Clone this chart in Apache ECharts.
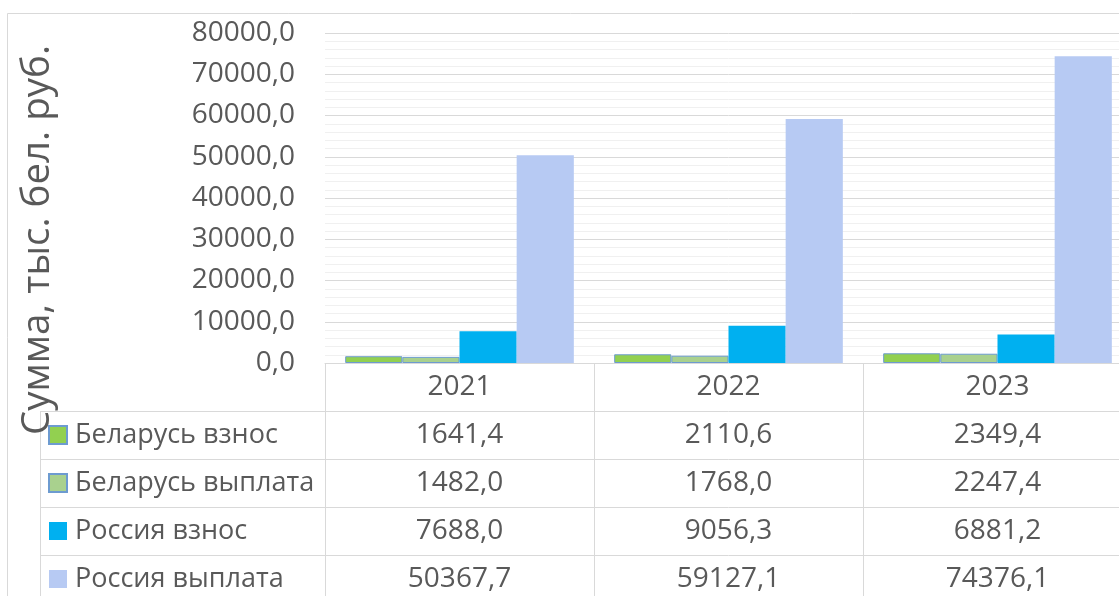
<!DOCTYPE html>
<html>
<head>
<meta charset="utf-8">
<script src="https://cdn.jsdelivr.net/npm/echarts@6/dist/echarts.min.js"></script>
<style>
  html, body { margin: 0; padding: 0; overflow: hidden; background: #fff; }
  #main { width: 1132px; height: 660px; }
</style>
</head>
<body>
<div id="main"></div>
<script>
const years = ['2021', '2022', '2023']
const seriesNames = ['Беларусь взнос', 'Беларусь выплата', 'Россия взнос', 'Россия выплата']
const byContrib = [1641.4, 2110.6, 2349.4]
const byPayout = [1482.0, 1768.0, 2247.4]
const ruContrib = [7688.0, 9056.3, 6881.2]
const ruPayout = [50367.7, 59127.1, 74376.1]
const colors = ['#92d050', '#a9d18e', '#00b0f0', '#b7caf3']

const values = [byContrib, byPayout, ruContrib, ruPayout]

const FONT = '"Open Sans", "Noto Sans", sans-serif'
const TEXT = '#595959'
const LINE = '#d9d9d9'
const CHART_H = 660
const PLOT_LEFT = 325
const PLOT_BOTTOM = 363
const ROW_H = 48
const TABLE_LEFT = 40

const fmt = (v) => v.toFixed(1).replace('.', ',')

const chart = echarts.init(document.getElementById('main'))

function tableAxis(idx) {
  return {
    type: 'category',
    data: years,
    position: 'bottom',
    offset: idx * ROW_H,
    axisLine: { show: true, lineStyle: { color: LINE, width: 1 } },
    axisTick: { show: true, interval: 0, length: ROW_H, lineStyle: { color: LINE, width: 1 } },
    axisLabel: {
      interval: 0,
      margin: 9,
      lineHeight: 30,
      color: TEXT,
      fontFamily: FONT,
      fontSize: 28,
      formatter: (val, i) => (idx === 0 ? val : fmt(values[idx - 1][i])),
    },
    splitLine: { show: false },
  }
}

// left column of the data table
const leftLines = []
for (let k = 1; k <= 4; k++) {
  leftLines.push({
    type: 'line',
    shape: { x1: TABLE_LEFT, y1: PLOT_BOTTOM + ROW_H * k + 0.5, x2: PLOT_LEFT, y2: PLOT_BOTTOM + ROW_H * k + 0.5 },
    style: { stroke: LINE, lineWidth: 1 },
  })
}
leftLines.push({
  type: 'line',
  shape: { x1: TABLE_LEFT + 0.5, y1: PLOT_BOTTOM + ROW_H, x2: TABLE_LEFT + 0.5, y2: CHART_H },
  style: { stroke: LINE, lineWidth: 1 },
})

const option = {
  backgroundColor: '#fff',
  animation: false,
  textStyle: { fontFamily: FONT },
  grid: { left: PLOT_LEFT, right: 0, top: 33, bottom: CHART_H - PLOT_BOTTOM },
  legend: {
    orient: 'vertical',
    left: 43,
    top: PLOT_BOTTOM + ROW_H + 4,
    itemWidth: 18,
    itemHeight: 18,
    itemGap: 18,
    icon: 'rect',
    selectedMode: false,
    textStyle: { color: TEXT, fontFamily: FONT, fontSize: 27, lineHeight: 30, padding: [0, 0, 0, 3] },
    data: seriesNames,
  },
  graphic: [
    {
      type: 'rect',
      z: -10,
      shape: { x: 7.5, y: 13.5, width: 1300, height: 800 },
      style: { fill: 'none', stroke: LINE, lineWidth: 1 },
    },
    ...leftLines,
    {
      type: 'text',
      x: 38,
      y: 240,
      rotation: Math.PI / 2,
      style: {
        text: 'Сумма, тыс. бел. руб.',
        fill: TEXT,
        font: '38.5px ' + FONT,
        align: 'center',
        verticalAlign: 'middle',
      },
    },
  ],
  xAxis: [0, 1, 2, 3, 4].map(tableAxis),
  yAxis: {
    type: 'value',
    min: 0,
    max: 80000,
    interval: 10000,
    minorTick: { show: false, splitNumber: 5 },
    minorSplitLine: { show: true, lineStyle: { color: '#f0f0f0', width: 1 } },
    splitLine: { lineStyle: { color: LINE, width: 1 } },
    axisLine: { show: false },
    axisTick: { show: false },
    axisLabel: { color: TEXT, fontFamily: FONT, fontSize: 28, margin: 30, formatter: fmt },
  },
  series: seriesNames.map((name, i) => ({
    name,
    type: 'bar',
    data: values[i],
    barGap: '0%',
    barCategoryGap: '15%',
    itemStyle: {
      color: colors[i],
      borderColor: i < 2 ? '#6d9bd0' : colors[i],
      borderWidth: i < 2 ? 1 : 0,
    },
  })),
}

chart.setOption(option)
</script>
</body>
</html>
